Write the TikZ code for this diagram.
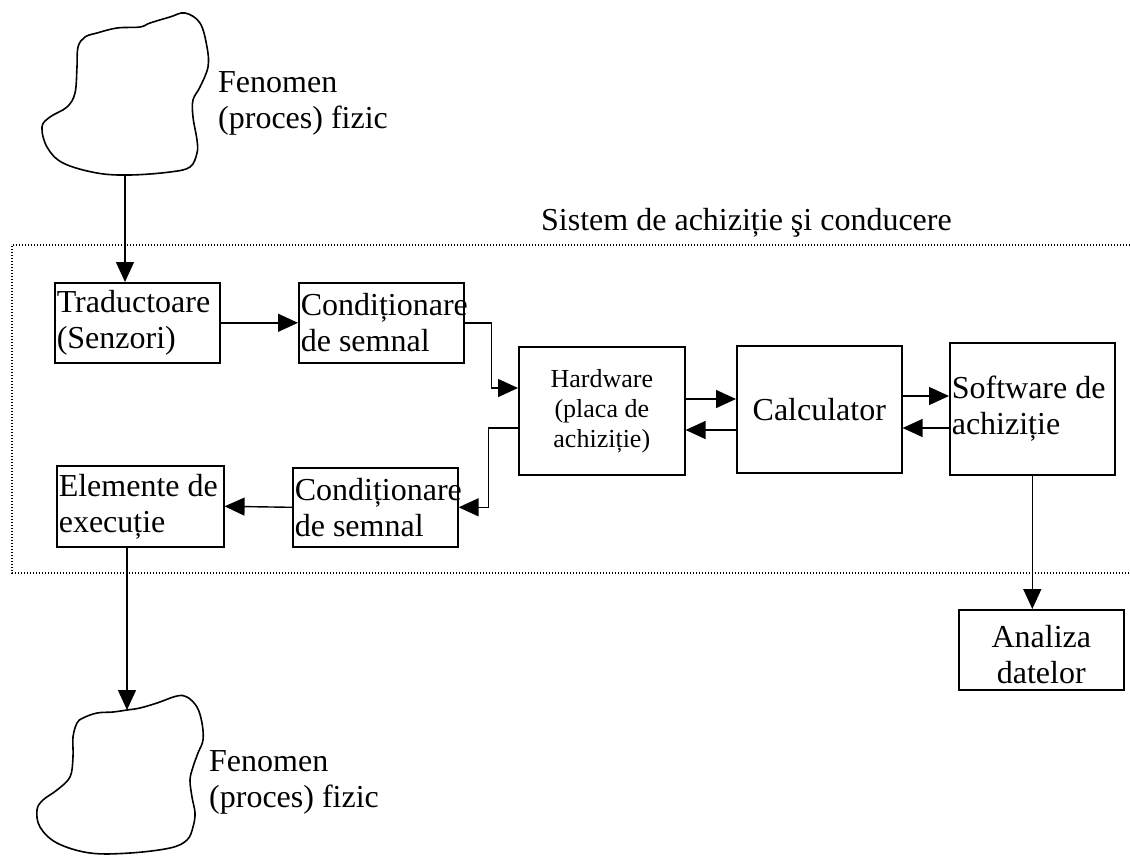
\documentclass[tikz,border=0pt]{standalone}
\usepackage{fontspec}
\setmainfont{Liberation Serif}
\usetikzlibrary{arrows.meta,calc}
\newcommand\bigfnt{\fontsize{32}{36}\selectfont}
\newcommand\smallfnt{\fontsize{26}{30}\selectfont}

\begin{document}
\begin{tikzpicture}[x=1pt,y=-1pt,
  blk/.style={draw, line width=1.6pt, inner xsep=2pt, inner ysep=0pt,
              anchor=north west, font=\bigfnt},
  conn/.style={line width=1.4pt},
  arr/.style={conn, -{Triangle[length=20pt,width=18pt]}},
  frame/.style={line width=1.4pt, dash pattern=on 1.4pt off 1.6pt},
  cloud/.style={line width=1.6pt},
  lbl/.style={font=\bigfnt, inner sep=0pt, align=flush left, anchor=north west}]
\useasboundingbox (0,0) rectangle (1130,855);

% physical process (input side)
\draw[cloud] plot[smooth cycle, tension=0.6] coordinates {
  (97,33) (117,28) (140,27) (150,23) (170,17) (185,13) (200,23) (207,47)
  (208,67) (200,87) (193,100) (193,117) (197,140) (197,153) (190,167)
  (170,172) (130,175) (97,173) (63,163) (47,147) (42,127) (50,117)
  (67,107) (75,93) (77,67) (78,47) (85,37)};
\coordinate (src) at (125,175);
\node[lbl] (lblin) at (218,71) {Fenomen\\(proces) fizic};

% physical process (output side)
\draw[cloud] plot[smooth cycle, tension=0.6] coordinates {
  (83,718) (97,713) (113,712) (127,710) (140,708) (157,703) (177,696)
  (187,697) (197,707) (202,723) (203,740) (198,753) (193,767) (190,780)
  (192,797) (195,813) (193,827) (187,840) (170,848) (130,853) (90,853)
  (57,843) (40,827) (37,810) (43,800) (57,790) (70,777) (73,757) (73,737)
  (77,723)};
\coordinate (dst) at (127,710);
\node[lbl] (lblout) at (209,750) {Fenomen\\(proces) fizic};

% system boundary
\node[font=\bigfnt, inner sep=0pt, anchor=base west] (sys) at (541,230)
  {Sistem de achiziție şi conducere};
\draw[frame] (1130,245) -- (12,245) -- (12,573) -- (1130,573);

% blocks
\node[blk, text width=161pt, minimum height=80pt, align=flush left] (trad) at (54,282)
  {Traductoare\\(Senzori)};
\node[blk, text width=161pt, minimum height=80pt, align=flush left] (cond1) at (298,282)
  {Condiționare\\de semnal};
\node[blk, text width=162pt, minimum height=128pt, align=flush center, font=\smallfnt] (hw) at (518,346)
  {Hardware\\(placa de\\achiziție)};
\node[blk, text width=161pt, minimum height=127pt, align=flush center] (calc) at (736,345)
  {Calculator};
\node[blk, text width=161pt, minimum height=132pt, align=flush left] (soft) at (949,342)
  {Software de\\achiziție};
\node[blk, text width=161pt, minimum height=79pt, align=flush left] (cond2) at (292,467)
  {Condiționare\\de semnal};
\node[blk, text width=163pt, minimum height=81pt, align=flush left] (elem) at (56,465)
  {Elemente de\\execuție};
\node[blk, text width=161pt, minimum height=80pt, align=flush center] (ana) at (958,609)
  {\rule{0pt}{31pt}Analiza\\datelor};

% connection points on the hardware, computer and software blocks
\coordinate (hwin)  at ($(hw.north west)+(0,42)$);
\coordinate (hwout) at ($(hw.north west)+(0,82)$);
\coordinate (h1) at ($(hw.north east)+(0,53)$);
\coordinate (h2) at ($(hw.north east)+(0,84)$);
\coordinate (s1) at ($(calc.north east)+(0,51)$);
\coordinate (s2) at ($(calc.north east)+(0,83)$);

% signal flow
\draw[arr] (src) -- (src |- trad.north);
\draw[arr] (trad.east) -- (cond1.west);
\draw[arr] (cond1.east) -| ($(cond1.east)!.5!(hwin)$) |- (hwin);
\draw[arr] (hwout) -| ($(hwout)!.5!(cond2.east)$) |- (cond2.east);
\draw[arr] (cond2.west) -- (elem.east);
\draw[arr] (elem.south -| dst) -- (dst);
\draw[arr] (h1) -- (h1 -| calc.west);
\draw[arr] (h2 -| calc.west) -- (h2);
\draw[arr] (s1) -- (s1 -| soft.west);
\draw[arr] (s2 -| soft.west) -- (s2);
\draw[arr] (soft.south) -- (soft.south |- ana.north);
\end{tikzpicture}
\end{document}
